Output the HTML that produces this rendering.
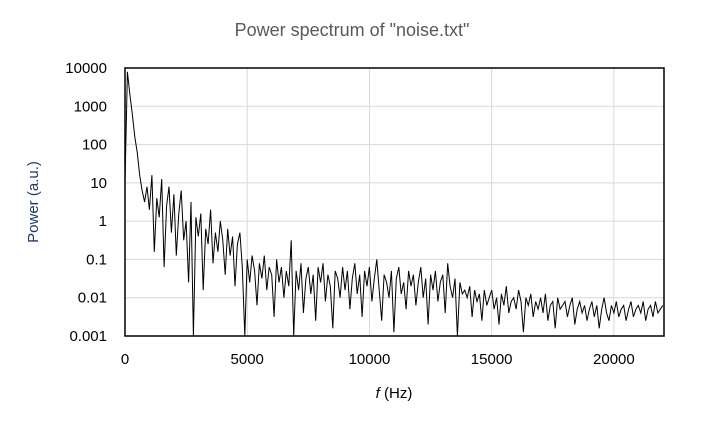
<!DOCTYPE html>
<html>
<head>
<meta charset="utf-8">
<style>
  html,body{margin:0;padding:0;background:#fff;}
  body{width:704px;height:425px;overflow:hidden;font-family:"Liberation Sans","Noto Sans CJK JP",sans-serif;}
</style>
</head>
<body>
<svg id="chart" width="704" height="425" viewBox="0 0 704 425" xmlns="http://www.w3.org/2000/svg">
  <text x="352" y="36" text-anchor="middle" font-size="18" fill="#595959" font-family="Liberation Sans, sans-serif">Power spectrum of "noise.txt"</text>
  <g id="grid"></g>
  <g id="series"></g>
  <rect x="125" y="68" width="539" height="268" fill="none" stroke="#000" stroke-width="1.5"/>
  <g id="yticks"></g>
  <g id="xticks"></g>
  <text transform="translate(38,202) rotate(-90)" text-anchor="middle" font-size="15" fill="#1f3864">Power (a.u.)</text>
  <text x="394" y="398" text-anchor="middle" font-size="15" fill="#000"><tspan font-style="italic">f</tspan> (Hz)</text>
</svg>
<script>
const yTickLabels = ["10000","1000","100","10","1","0.1","0.01","0.001"];
const yTickLogs = [4,3,2,1,0,-1,-2,-3];
const xTickValues = [0,5000,10000,15000,20000];
const freqStep = 100;
const logPower = [
 1.0,3.9,3.3,2.8,2.2,1.8,1.2,0.8,0.5,0.9,
 0.3,1.2,-0.8,0.6,0.1,1.1,-1.2,0.4,0.9,-0.3,
 0.7,-0.9,0.2,0.8,-0.5,0.0,-1.6,0.5,-3.2,0.1,
 -0.4,0.2,-1.8,-0.2,-0.6,0.3,-1.1,-0.3,-0.8,0.0,
 -0.5,-1.4,-0.2,-0.9,-0.4,-1.7,-0.6,-0.3,-1.2,-3.0,
 -1.0,-1.6,-0.9,-1.3,-2.2,-1.1,-1.5,-0.9,-1.8,-1.2,
 -1.4,-2.5,-1.0,-1.6,-1.2,-2.0,-1.3,-1.7,-0.5,-3.0,
 -1.3,-1.8,-1.1,-2.4,-1.5,-1.2,-1.9,-1.4,-2.6,-1.2,
 -1.6,-1.1,-2.1,-1.4,-1.7,-2.8,-1.3,-1.5,-2.0,-1.2,
 -1.8,-1.3,-2.3,-1.5,-1.1,-1.9,-1.4,-2.5,-1.3,-1.7,
 -1.2,-2.1,-1.5,-1.0,-1.8,-2.6,-1.4,-1.6,-2.0,-1.3,
 -2.9,-1.5,-1.2,-1.9,-1.6,-2.3,-1.3,-1.7,-1.4,-2.2,
 -1.6,-1.2,-2.0,-1.5,-2.7,-1.4,-1.8,-1.3,-2.1,-1.6,
 -1.4,-2.4,-1.1,-1.7,-2.0,-1.5,-3.0,-1.6,-1.9,-1.8,
 -2.0,-1.7,-2.5,-1.8,-2.1,-1.9,-2.6,-1.8,-2.2,-2.0,
 -1.8,-2.3,-2.0,-2.7,-1.9,-2.2,-1.7,-2.4,-2.1,-2.0,
 -2.3,-1.8,-2.1,-2.9,-2.0,-2.2,-1.9,-2.5,-2.1,-2.3,
 -2.0,-2.4,-1.9,-2.6,-2.2,-2.1,-2.8,-2.0,-2.3,-2.2,
 -2.1,-2.5,-2.2,-2.0,-2.7,-2.3,-2.1,-2.4,-2.2,-2.6,
 -2.3,-2.1,-2.5,-2.2,-2.8,-2.3,-2.0,-2.4,-2.6,-2.2,
 -2.4,-2.1,-2.5,-2.3,-2.2,-2.6,-2.3,-2.1,-2.5,-2.3,
 -2.2,-2.4,-2.1,-2.6,-2.3,-2.2,-2.5,-2.1,-2.4,-2.3,
 -2.2
];
const NS = "http://www.w3.org/2000/svg";
const X0=125, X1=664, Y0=68, Y1=336, XMAX=22050, LMIN=-3, LMAX=4;
function xs(f){return X0+(f/XMAX)*(X1-X0);}
function ys(l){l=Math.max(LMIN,Math.min(LMAX,l));return Y1-(l-LMIN)/(LMAX-LMIN)*(Y1-Y0);}
const grid=document.getElementById('grid');
yTickLogs.forEach((l,i)=>{
  const ln=document.createElementNS(NS,'line');
  
  
  ln.setAttribute('x1',X0);ln.setAttribute('x2',X1);ln.setAttribute('y1',ys(l));ln.setAttribute('y2',ys(l));
  ln.setAttribute('stroke','#d9d9d9');ln.setAttribute('stroke-width','1');
  grid.appendChild(ln);
  const t=document.createElementNS(NS,'text');
  
  
  t.setAttribute('x',107);t.setAttribute('y',ys(l)+5);t.setAttribute('text-anchor','end');
  t.setAttribute('font-size','15');t.setAttribute('fill','#000');
  t.textContent=yTickLabels[i];
  document.getElementById('yticks').appendChild(t);
});
xTickValues.forEach(v=>{
  const ln=document.createElementNS(NS,'line');
  
  
  ln.setAttribute('x1',xs(v));ln.setAttribute('x2',xs(v));ln.setAttribute('y1',Y0);ln.setAttribute('y2',Y1);
  ln.setAttribute('stroke','#d9d9d9');ln.setAttribute('stroke-width','1');
  grid.appendChild(ln);
  const t=document.createElementNS(NS,'text');
  
  
  t.setAttribute('x',xs(v));t.setAttribute('y',364);t.setAttribute('text-anchor','middle');
  t.setAttribute('font-size','15');t.setAttribute('fill','#000');
  t.textContent=String(v);
  document.getElementById('xticks').appendChild(t);
});
const pts=logPower.map((l,i)=>xs(i*freqStep).toFixed(1)+','+ys(l).toFixed(1)).join(' ');
const pl=document.createElementNS(NS,'polyline');


pl.setAttribute('points',pts);
pl.setAttribute('fill','none');pl.setAttribute('stroke','#000');pl.setAttribute('stroke-width','1');
document.getElementById('series').appendChild(pl);
</script>
</body>
</html>
